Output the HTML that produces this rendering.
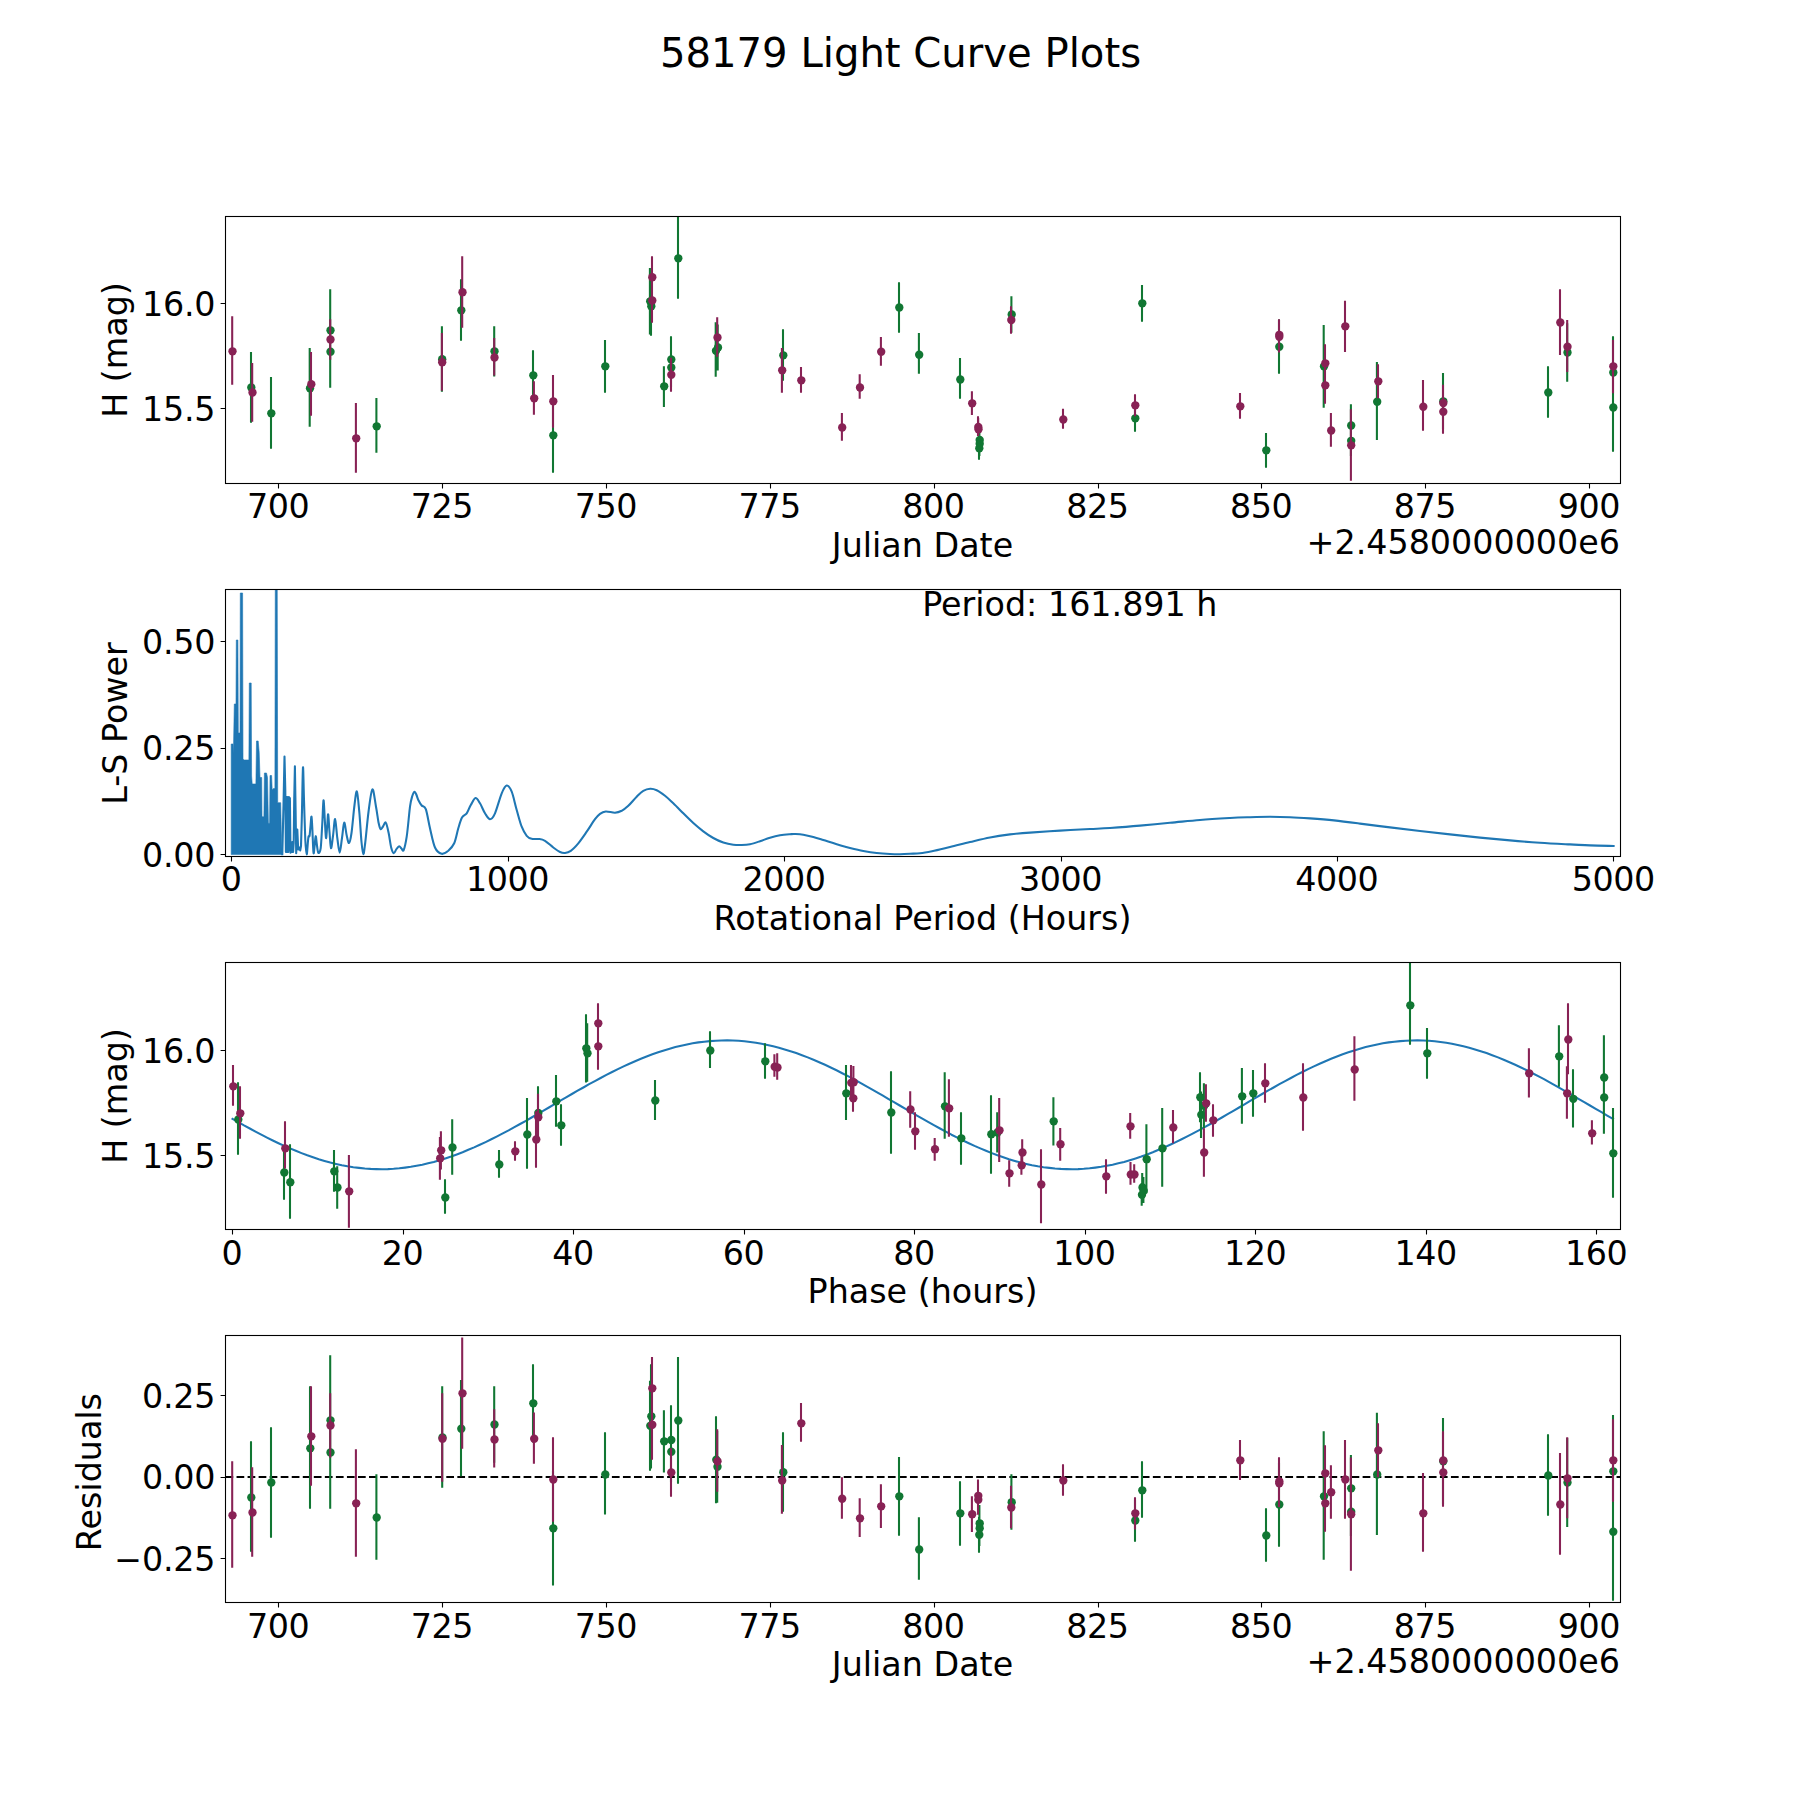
<!DOCTYPE html>
<html><head><meta charset="utf-8"><title>58179 Light Curve Plots</title>
<style>html,body{margin:0;padding:0;background:#fff}svg{display:block}text{font-family:"DejaVu Sans","Liberation Sans",sans-serif;fill:#000}</style></head><body>
<svg width="1800" height="1800" viewBox="0 0 1800 1800">
<rect x="0" y="0" width="1800" height="1800" fill="#fff"/>
<defs>
<clipPath id="c0"><rect x="225.5" y="216.5" width="1395.0" height="267.0"/></clipPath>
<clipPath id="c1"><rect x="225.5" y="589.5" width="1395.0" height="267.0"/></clipPath>
<clipPath id="c2"><rect x="225.5" y="962.5" width="1395.0" height="267.0"/></clipPath>
<clipPath id="c3"><rect x="225.5" y="1335.5" width="1395.0" height="267.0"/></clipPath>
</defs>
<text transform="translate(900.5,66.8) scale(0.9636,1)" font-size="41.67" text-anchor="middle">58179 Light Curve Plots</text>
<g clip-path="url(#c0)">
<g fill="#117733" stroke="#117733" stroke-width="2.08">
<circle cx="251.3" cy="387.5" r="4.17" stroke="none"/><circle cx="271.3" cy="413.3" r="4.17" stroke="none"/><circle cx="310.0" cy="388.3" r="4.17" stroke="none"/><circle cx="330.5" cy="330.3" r="4.17" stroke="none"/><circle cx="330.5" cy="351.7" r="4.17" stroke="none"/><circle cx="376.7" cy="426.3" r="4.17" stroke="none"/><circle cx="442.2" cy="359.2" r="4.17" stroke="none"/><circle cx="461.3" cy="310.3" r="4.17" stroke="none"/><circle cx="494.5" cy="351.3" r="4.17" stroke="none"/><circle cx="533.3" cy="375.3" r="4.17" stroke="none"/><circle cx="553.3" cy="435.3" r="4.17" stroke="none"/><circle cx="605.3" cy="366.3" r="4.17" stroke="none"/><circle cx="650.2" cy="301.3" r="4.17" stroke="none"/><circle cx="651.3" cy="306.3" r="4.17" stroke="none"/><circle cx="678.3" cy="258.3" r="4.17" stroke="none"/><circle cx="671.3" cy="359.5" r="4.17" stroke="none"/><circle cx="671.3" cy="367.5" r="4.17" stroke="none"/><circle cx="664.2" cy="386.3" r="4.17" stroke="none"/><circle cx="718.0" cy="347.5" r="4.17" stroke="none"/><circle cx="716.0" cy="350.8" r="4.17" stroke="none"/><circle cx="783.3" cy="355.3" r="4.17" stroke="none"/><circle cx="899.3" cy="307.5" r="4.17" stroke="none"/><circle cx="919.2" cy="354.7" r="4.17" stroke="none"/><circle cx="960.3" cy="379.5" r="4.17" stroke="none"/><circle cx="979.7" cy="440.0" r="4.17" stroke="none"/><circle cx="979.7" cy="443.7" r="4.17" stroke="none"/><circle cx="979.3" cy="448.3" r="4.17" stroke="none"/><circle cx="1011.7" cy="314.5" r="4.17" stroke="none"/><circle cx="1135.3" cy="418.3" r="4.17" stroke="none"/><circle cx="1142.3" cy="303.3" r="4.17" stroke="none"/><circle cx="1266.3" cy="450.3" r="4.17" stroke="none"/><circle cx="1279.3" cy="346.7" r="4.17" stroke="none"/><circle cx="1324.0" cy="366.3" r="4.17" stroke="none"/><circle cx="1351.2" cy="425.5" r="4.17" stroke="none"/><circle cx="1351.2" cy="440.8" r="4.17" stroke="none"/><circle cx="1377.2" cy="401.7" r="4.17" stroke="none"/><circle cx="1443.3" cy="401.3" r="4.17" stroke="none"/><circle cx="1548.3" cy="392.5" r="4.17" stroke="none"/><circle cx="1567.5" cy="352.5" r="4.17" stroke="none"/><circle cx="1613.3" cy="372.5" r="4.17" stroke="none"/><circle cx="1613.3" cy="407.5" r="4.17" stroke="none"/>
<path d="M251.0 352.0V422.8M271.0 377.0V448.7M309.7 348.0V426.7M330.2 289.2V371.5M330.2 315.5V387.8M376.4 398.0V452.8M441.9 326.2V391.7M461.0 279.2V340.8M494.2 326.2V376.5M533.0 350.3V400.3M553.0 397.8V472.8M605.0 340.0V392.8M649.9 268.0V334.6M651.0 276.8V335.8M678.0 200.0V298.8M671.0 336.2V382.8M671.0 347.5V387.5M663.9 366.2V407.0M717.7 324.5V370.5M715.7 322.2V376.7M783.0 329.2V380.8M899.0 282.2V332.8M918.9 333.0V373.8M960.0 358.0V398.8M979.4 428.0V452.0M979.4 431.0V456.0M979.0 437.0V459.7M1011.4 296.2V332.8M1135.0 405.0V431.7M1142.0 285.0V321.7M1266.0 433.0V467.8M1279.0 319.6V373.8M1323.7 325.0V407.8M1350.9 404.2V446.8M1350.9 425.0V456.0M1376.9 362.0V440.0M1443.0 373.0V429.6M1548.0 366.2V417.8M1567.2 323.3V381.7M1613.0 336.2V408.8M1613.0 363.3V451.7" fill="none"/>
</g>
<g fill="#882255" stroke="#882255" stroke-width="2.08">
<circle cx="232.5" cy="351.3" r="4.17" stroke="none"/><circle cx="252.5" cy="392.5" r="4.17" stroke="none"/><circle cx="311.3" cy="384.2" r="4.17" stroke="none"/><circle cx="330.5" cy="339.5" r="4.17" stroke="none"/><circle cx="356.2" cy="438.3" r="4.17" stroke="none"/><circle cx="442.2" cy="362.2" r="4.17" stroke="none"/><circle cx="462.5" cy="292.2" r="4.17" stroke="none"/><circle cx="494.5" cy="357.5" r="4.17" stroke="none"/><circle cx="534.2" cy="398.3" r="4.17" stroke="none"/><circle cx="553.3" cy="401.3" r="4.17" stroke="none"/><circle cx="652.3" cy="277.2" r="4.17" stroke="none"/><circle cx="652.3" cy="300.5" r="4.17" stroke="none"/><circle cx="671.3" cy="374.7" r="4.17" stroke="none"/><circle cx="717.5" cy="337.5" r="4.17" stroke="none"/><circle cx="782.2" cy="370.3" r="4.17" stroke="none"/><circle cx="801.3" cy="380.3" r="4.17" stroke="none"/><circle cx="842.2" cy="427.5" r="4.17" stroke="none"/><circle cx="860.0" cy="387.5" r="4.17" stroke="none"/><circle cx="881.2" cy="351.7" r="4.17" stroke="none"/><circle cx="972.2" cy="403.3" r="4.17" stroke="none"/><circle cx="978.3" cy="427.0" r="4.17" stroke="none"/><circle cx="978.5" cy="429.3" r="4.17" stroke="none"/><circle cx="1011.3" cy="320.0" r="4.17" stroke="none"/><circle cx="1063.3" cy="419.5" r="4.17" stroke="none"/><circle cx="1135.3" cy="405.3" r="4.17" stroke="none"/><circle cx="1240.3" cy="406.3" r="4.17" stroke="none"/><circle cx="1279.3" cy="334.8" r="4.17" stroke="none"/><circle cx="1279.3" cy="336.8" r="4.17" stroke="none"/><circle cx="1325.3" cy="363.3" r="4.17" stroke="none"/><circle cx="1325.3" cy="385.3" r="4.17" stroke="none"/><circle cx="1331.2" cy="430.5" r="4.17" stroke="none"/><circle cx="1345.3" cy="326.3" r="4.17" stroke="none"/><circle cx="1351.2" cy="445.3" r="4.17" stroke="none"/><circle cx="1378.3" cy="381.3" r="4.17" stroke="none"/><circle cx="1423.3" cy="406.7" r="4.17" stroke="none"/><circle cx="1443.3" cy="403.0" r="4.17" stroke="none"/><circle cx="1443.3" cy="411.7" r="4.17" stroke="none"/><circle cx="1560.3" cy="322.5" r="4.17" stroke="none"/><circle cx="1567.5" cy="346.7" r="4.17" stroke="none"/><circle cx="1613.3" cy="366.3" r="4.17" stroke="none"/>
<path d="M232.2 316.2V384.7M252.2 363.0V421.7M311.0 352.0V415.8M330.2 319.2V359.7M355.9 403.0V472.8M441.9 333.0V390.8M462.2 256.2V327.8M494.2 338.0V375.5M533.9 381.3V414.7M553.0 375.0V427.7M652.0 256.2V298.2M652.0 278.2V322.8M671.0 357.7V391.7M717.2 317.2V356.7M781.9 348.0V392.8M801.0 367.0V392.8M841.9 413.0V440.8M859.7 374.2V398.8M880.9 337.0V365.8M971.9 391.2V415.0M978.0 416.2V436.0M978.2 418.0V436.0M1011.0 306.2V333.8M1063.0 408.8V428.8M1135.0 394.2V416.3M1240.0 393.0V418.8M1279.0 319.2V351.0M1279.0 320.5V352.4M1325.0 344.2V382.4M1325.0 367.0V403.7M1330.9 413.0V446.7M1345.0 300.8V352.0M1350.9 409.2V480.8M1378.0 364.2V398.3M1423.0 380.0V430.8M1443.0 384.7V421.3M1443.0 389.6V433.8M1560.0 289.2V355.0M1567.2 320.0V372.0M1613.0 340.0V393.3" fill="none"/>
</g>
</g>
<rect x="225.5" y="216.5" width="1395.0" height="267.0" fill="none" stroke="#000" stroke-width="1.1"/>
<path d="M278.5 483.5v4.9M442.5 483.5v4.9M606.5 483.5v4.9M770.5 483.5v4.9M934.5 483.5v4.9M1098.5 483.5v4.9M1261.5 483.5v4.9M1425.5 483.5v4.9M1589.5 483.5v4.9" stroke="#000" stroke-width="1.1" fill="none"/>
<text x="278.2" y="517.5" font-size="33.33" text-anchor="middle" letter-spacing="-0.45">700</text>
<text x="442.0" y="517.5" font-size="33.33" text-anchor="middle" letter-spacing="-0.45">725</text>
<text x="605.8" y="517.5" font-size="33.33" text-anchor="middle" letter-spacing="-0.45">750</text>
<text x="769.7" y="517.5" font-size="33.33" text-anchor="middle" letter-spacing="-0.45">775</text>
<text x="933.5" y="517.5" font-size="33.33" text-anchor="middle" letter-spacing="-0.45">800</text>
<text x="1097.3" y="517.5" font-size="33.33" text-anchor="middle" letter-spacing="-0.45">825</text>
<text x="1261.1" y="517.5" font-size="33.33" text-anchor="middle" letter-spacing="-0.45">850</text>
<text x="1425.0" y="517.5" font-size="33.33" text-anchor="middle" letter-spacing="-0.45">875</text>
<text x="1588.8" y="517.5" font-size="33.33" text-anchor="middle" letter-spacing="-0.45">900</text>
<path d="M225.5 303.5h-4.9M225.5 408.5h-4.9" stroke="#000" stroke-width="1.1" fill="none"/>
<text x="215.3" y="315.5" font-size="33.33" text-anchor="end" letter-spacing="-0.2">16.0</text>
<text x="215.3" y="420.5" font-size="33.33" text-anchor="end" letter-spacing="-0.2">15.5</text>
<text x="922.5" y="557.0" font-size="33.33" text-anchor="middle">Julian Date</text>
<text transform="translate(126.7,350.0) rotate(-90)" font-size="33.33" text-anchor="middle">H (mag)</text>
<text x="1620" y="554.2" font-size="33.33" text-anchor="end">+2.4580000000e6</text>
<g clip-path="url(#c1)">
<polygon points="231.2,854.6 231.2,744.0 233.0,744.0 233.4,754.0 234.3,704.0 236.0,704.0 236.3,640.0 237.9,640.0 238.3,733.0 240.0,733.0 240.3,593.0 242.6,593.0 243.0,759.0 244.0,760.0 248.9,760.0 249.3,683.0 251.2,683.0 251.6,776.0 252.2,784.0 255.9,784.0 256.5,741.0 258.2,741.0 259.2,752.5 260.0,777.5 261.7,777.5 262.0,816.7 263.9,816.7 264.4,773.0 266.5,773.0 267.5,777.5 268.4,823.3 269.6,823.3 270.0,775.5 271.6,775.5 272.2,790.0 273.5,788.5 274.9,788.5 275.3,570.0 277.2,570.0 277.7,802.7 280.7,802.7 281.3,830.0 282.2,854.6" fill="#1f77b4" stroke="#1f77b4" stroke-width="0.6" stroke-linejoin="round"/>
<path d="M282.3 854.3L283.5 805.0L284.5 756.5L285.3 790.0L285.9 852.0L286.5 797.0L287.1 852.0L287.7 797.0L288.3 852.0L288.9 797.0L289.5 850.0L289.9 798.0L290.5 852.7L291.2 842.0L291.8 852.0L292.5 842.0L293.1 852.0L293.7 843.0L294.2 800.0L294.9 766.3L295.6 810.0L296.2 853.3L297.3 829.5L298.2 849.5L299.2 847.5L300.2 850.5L301.0 846.0L301.0 846.0C301.2 840.0 301.7 823.1 302.0 810.0C302.3 796.9 302.7 769.0 303.0 767.3C303.3 765.6 303.6 787.9 304.0 800.0C304.4 812.1 304.9 831.0 305.3 840.0C305.8 849.0 306.2 854.1 306.7 854.3C307.1 854.5 307.7 844.0 308.0 841.0C308.3 838.0 308.3 837.2 308.6 836.3C308.9 835.4 309.3 837.4 309.6 835.5C309.9 833.6 310.3 828.1 310.6 825.0C310.9 821.9 311.2 815.9 311.5 816.7C311.8 817.5 312.1 824.0 312.4 830.0C312.7 836.0 313.1 850.0 313.5 852.7C313.9 855.4 314.2 848.8 314.6 846.0C315.0 843.2 315.3 836.5 315.7 836.2C316.1 835.9 316.4 841.2 316.8 844.0C317.2 846.8 317.7 852.0 318.3 852.7C318.9 853.4 320.1 852.8 320.7 848.2C321.3 843.6 321.7 833.0 322.2 825.0C322.7 817.0 323.1 801.6 323.5 800.4C323.9 799.2 324.3 811.7 324.7 818.0C325.1 824.3 325.6 836.7 326.0 838.0C326.4 839.3 326.8 830.0 327.2 826.0C327.6 822.0 327.8 813.3 328.2 814.3C328.6 815.3 329.0 826.4 329.5 832.0C330.0 837.6 330.4 847.5 331.0 848.2C331.6 848.9 332.3 840.9 333.0 836.0C333.7 831.1 334.4 818.7 335.1 819.0C335.8 819.3 336.5 832.4 337.3 838.0C338.1 843.6 338.9 852.6 339.7 852.6C340.5 852.6 341.2 843.0 342.0 838.0C342.8 833.0 343.4 823.2 344.2 822.7C345.0 822.2 345.8 831.6 346.6 835.0C347.4 838.4 348.2 843.3 349.0 843.0C349.8 842.7 350.6 839.3 351.5 833.0C352.4 826.7 353.6 811.9 354.5 805.0C355.4 798.1 356.1 790.3 356.9 791.5C357.7 792.7 358.5 803.6 359.3 812.0C360.1 820.4 360.8 835.0 361.5 842.0C362.2 849.0 362.7 854.0 363.3 854.2C363.9 854.4 364.3 850.0 365.2 843.0C366.1 836.0 367.3 821.0 368.5 812.0C369.7 803.0 371.1 790.2 372.4 789.3C373.6 788.4 374.9 801.0 376.0 806.7C377.1 812.4 377.9 819.6 378.7 823.3C379.5 827.0 379.9 828.6 380.6 829.1C381.3 829.6 382.1 827.6 383.0 826.5C383.9 825.4 384.9 821.5 385.8 822.6C386.8 823.7 387.8 829.1 388.7 833.3C389.6 837.5 390.4 844.7 391.3 848.0C392.2 851.3 392.9 853.1 393.8 853.3C394.7 853.5 395.6 850.2 396.5 849.0C397.4 847.8 398.4 846.3 399.2 846.2C400.0 846.1 400.8 847.9 401.5 848.5C402.2 849.1 402.8 852.0 403.7 850.0C404.6 848.0 405.6 843.9 406.7 836.7C407.8 829.5 409.1 813.5 410.0 806.7C410.9 799.9 411.6 798.5 412.3 796.0C413.1 793.5 413.8 791.9 414.5 791.7C415.2 791.5 415.9 793.6 416.5 795.0C417.1 796.4 417.4 798.2 418.3 800.0C419.2 801.8 420.4 804.0 421.7 805.5C422.9 807.0 424.4 805.4 425.8 809.2C427.2 813.0 428.5 821.9 430.0 828.3C431.5 834.7 433.1 843.2 435.0 847.5C436.9 851.8 439.5 853.2 441.7 853.8C443.9 854.3 446.2 852.5 448.3 850.8C450.4 849.0 452.5 847.0 454.2 843.3C455.9 839.5 457.0 832.6 458.3 828.3C459.6 824.0 460.6 820.0 462.0 817.5C463.4 815.0 465.2 815.4 466.7 813.3C468.2 811.2 469.3 807.5 470.8 805.0C472.3 802.5 474.0 798.3 475.5 798.0C477.0 797.7 478.4 800.8 480.0 803.3C481.6 805.8 483.3 810.6 485.0 813.3C486.7 815.9 488.3 819.2 490.0 819.2C491.7 819.2 493.1 817.6 495.0 813.3C496.9 809.0 499.8 797.9 501.7 793.3C503.6 788.7 505.0 785.8 506.7 785.5C508.4 785.2 510.0 787.6 511.7 791.7C513.4 795.8 515.0 804.2 516.7 810.0C518.4 815.8 520.0 822.4 521.7 826.7C523.4 831.0 525.0 833.8 526.7 835.8C528.4 837.8 529.6 838.3 531.7 838.8C533.8 839.3 537.0 838.7 539.2 839.0C541.4 839.3 542.6 839.4 545.0 840.8C547.4 842.2 550.8 845.6 553.3 847.5C555.8 849.4 558.0 851.1 560.0 852.0C562.0 852.9 563.2 853.2 565.0 853.0C566.8 852.8 568.6 852.4 570.8 850.8C573.0 849.2 575.6 846.5 578.3 843.3C580.9 840.1 583.9 835.7 586.7 831.7C589.5 827.7 592.8 822.2 595.0 819.2C597.2 816.2 598.2 815.1 600.0 813.8C601.8 812.5 603.3 811.7 605.8 811.5C608.3 811.3 612.4 812.8 615.0 812.7C617.6 812.6 619.5 811.9 621.7 810.8C623.9 809.6 625.8 808.1 628.3 805.8C630.8 803.4 634.2 799.2 636.7 796.7C639.2 794.2 641.0 792.1 643.3 790.8C645.5 789.5 648.0 788.8 650.2 788.7C652.4 788.6 654.2 789.0 656.7 790.2C659.2 791.4 662.2 793.6 665.0 795.8C667.8 798.0 670.2 800.4 673.3 803.3C676.3 806.2 680.0 810.0 683.3 813.3C686.6 816.6 690.0 820.0 693.3 823.0C696.6 826.0 700.0 828.8 703.3 831.3C706.6 833.8 710.0 836.1 713.3 838.0C716.6 839.9 720.0 841.4 723.3 842.5C726.6 843.6 730.2 844.3 733.3 844.7C736.4 845.1 738.9 845.1 741.7 845.0C744.5 844.9 747.0 844.8 750.0 844.2C753.0 843.6 756.7 842.3 760.0 841.2C763.3 840.1 766.7 838.8 770.0 837.8C773.3 836.8 776.7 835.9 780.0 835.3C783.3 834.7 787.5 834.4 790.0 834.2C792.5 834.0 792.8 833.9 795.0 834.0C797.2 834.1 800.2 834.2 803.3 834.7C806.3 835.2 810.0 836.1 813.3 837.0C816.6 837.9 819.4 838.8 823.3 840.0C827.2 841.2 832.2 842.9 836.7 844.2C841.2 845.5 845.6 846.9 850.0 848.0C854.4 849.1 858.8 850.2 863.3 851.0C867.8 851.8 872.2 852.5 876.7 853.0C881.2 853.5 886.1 853.8 890.0 854.0C893.9 854.2 896.7 854.2 900.0 854.2C903.3 854.2 906.7 854.0 910.0 853.8C913.3 853.6 916.3 853.6 920.0 853.2C923.7 852.8 927.0 852.2 932.0 851.2C937.0 850.2 943.7 848.5 950.0 847.0C956.3 845.5 963.3 843.6 970.0 842.0C976.7 840.4 983.3 838.7 990.0 837.4C996.7 836.1 1003.3 835.2 1010.0 834.4C1016.7 833.6 1021.7 833.2 1030.0 832.6C1038.3 832.0 1050.0 831.2 1060.0 830.6C1070.0 830.0 1081.7 829.4 1090.0 829.0C1098.3 828.6 1101.7 828.6 1110.0 828.0C1118.3 827.4 1130.0 826.5 1140.0 825.6C1150.0 824.7 1160.0 823.7 1170.0 822.8C1180.0 821.9 1190.0 820.8 1200.0 820.0C1210.0 819.2 1221.7 818.5 1230.0 818.0C1238.3 817.5 1243.3 817.4 1250.0 817.2C1256.7 817.0 1263.3 816.8 1270.0 816.8C1276.7 816.8 1283.3 816.9 1290.0 817.2C1296.7 817.5 1302.7 817.9 1310.0 818.4C1317.3 818.9 1325.7 819.5 1334.0 820.4C1342.3 821.3 1350.7 822.4 1360.0 823.6C1369.3 824.8 1380.0 826.2 1390.0 827.4C1400.0 828.6 1410.0 829.8 1420.0 831.0C1430.0 832.2 1440.0 833.3 1450.0 834.4C1460.0 835.5 1470.0 836.6 1480.0 837.6C1490.0 838.6 1500.0 839.5 1510.0 840.4C1520.0 841.3 1530.0 842.1 1540.0 842.8C1550.0 843.5 1561.7 844.0 1570.0 844.4C1578.3 844.8 1582.7 845.1 1590.0 845.4C1597.3 845.7 1609.7 845.9 1613.6 846.0" fill="none" stroke="#1f77b4" stroke-width="2.08" stroke-linejoin="round" stroke-linecap="square"/>
</g>
<rect x="225.5" y="589.5" width="1395.0" height="267.0" fill="none" stroke="#000" stroke-width="1.1"/>
<path d="M231.5 856.5v4.9M508.5 856.5v4.9M784.5 856.5v4.9M1061.5 856.5v4.9M1337.5 856.5v4.9M1613.5 856.5v4.9" stroke="#000" stroke-width="1.1" fill="none"/>
<text x="231.2" y="890.8" font-size="33.33" text-anchor="middle" letter-spacing="-0.45">0</text>
<text x="507.6" y="890.8" font-size="33.33" text-anchor="middle" letter-spacing="-0.45">1000</text>
<text x="784.0" y="890.8" font-size="33.33" text-anchor="middle" letter-spacing="-0.45">2000</text>
<text x="1060.4" y="890.8" font-size="33.33" text-anchor="middle" letter-spacing="-0.45">3000</text>
<text x="1336.8" y="890.8" font-size="33.33" text-anchor="middle" letter-spacing="-0.45">4000</text>
<text x="1613.2" y="890.8" font-size="33.33" text-anchor="middle" letter-spacing="-0.45">5000</text>
<path d="M225.5 854.5h-4.9M225.5 748.5h-4.9M225.5 641.5h-4.9" stroke="#000" stroke-width="1.1" fill="none"/>
<text x="215.3" y="866.7" font-size="33.33" text-anchor="end" letter-spacing="-0.2">0.00</text>
<text x="215.3" y="760.3" font-size="33.33" text-anchor="end" letter-spacing="-0.2">0.25</text>
<text x="215.3" y="653.7" font-size="33.33" text-anchor="end" letter-spacing="-0.2">0.50</text>
<text x="922.5" y="930.0" font-size="33.33" text-anchor="middle">Rotational Period (Hours)</text>
<text transform="translate(126.7,723.5) rotate(-90)" font-size="33.33" text-anchor="middle">L-S Power</text>
<text x="922.2" y="616" font-size="33.33">Period: 161.891 h</text>
<g clip-path="url(#c2)">
<polyline points="232.5,1118.9 238.3,1122.1 244.0,1125.4 249.8,1128.5 255.5,1131.6 261.3,1134.7 267.0,1137.6 272.8,1140.5 278.5,1143.2 284.3,1145.9 290.0,1148.4 295.8,1150.8 301.5,1153.1 307.3,1155.3 313.0,1157.3 318.8,1159.2 324.5,1160.9 330.3,1162.5 336.0,1163.9 341.8,1165.2 347.5,1166.3 353.3,1167.2 359.0,1167.9 364.8,1168.5 370.6,1168.9 376.3,1169.1 382.1,1169.2 387.8,1169.1 393.6,1168.8 399.3,1168.3 405.1,1167.6 410.8,1166.8 416.6,1165.8 422.3,1164.7 428.1,1163.3 433.8,1161.9 439.6,1160.2 445.3,1158.4 451.1,1156.5 456.8,1154.4 462.6,1152.2 468.3,1149.8 474.1,1147.4 479.8,1144.8 485.6,1142.1 491.3,1139.3 497.1,1136.4 502.8,1133.4 508.6,1130.4 514.4,1127.2 520.1,1124.0 525.9,1120.8 531.6,1117.5 537.4,1114.2 543.1,1110.8 548.9,1107.5 554.6,1104.1 560.4,1100.7 566.1,1097.4 571.9,1094.0 577.6,1090.7 583.4,1087.5 589.1,1084.2 594.9,1081.1 600.6,1078.0 606.4,1074.9 612.1,1072.0 617.9,1069.1 623.6,1066.4 629.4,1063.7 635.1,1061.2 640.9,1058.8 646.6,1056.5 652.4,1054.3 658.2,1052.3 663.9,1050.4 669.7,1048.7 675.4,1047.1 681.2,1045.7 686.9,1044.4 692.7,1043.3 698.4,1042.4 704.2,1041.7 709.9,1041.1 715.7,1040.7 721.4,1040.5 727.2,1040.4 732.9,1040.5 738.7,1040.8 744.4,1041.3 750.2,1042.0 755.9,1042.8 761.7,1043.8 767.4,1044.9 773.2,1046.3 778.9,1047.7 784.7,1049.4 790.5,1051.2 796.2,1053.1 802.0,1055.2 807.7,1057.4 813.5,1059.8 819.2,1062.2 825.0,1064.8 830.7,1067.5 836.5,1070.3 842.2,1073.2 848.0,1076.2 853.7,1079.2 859.5,1082.4 865.2,1085.6 871.0,1088.8 876.7,1092.1 882.5,1095.4 888.2,1098.8 894.0,1102.1 899.7,1105.5 905.5,1108.9 911.2,1112.2 917.0,1115.6 922.8,1118.9 928.5,1122.1 934.3,1125.4 940.0,1128.5 945.8,1131.6 951.5,1134.7 957.3,1137.6 963.0,1140.5 968.8,1143.2 974.5,1145.9 980.3,1148.4 986.0,1150.8 991.8,1153.1 997.5,1155.3 1003.3,1157.3 1009.0,1159.2 1014.8,1160.9 1020.5,1162.5 1026.3,1163.9 1032.0,1165.2 1037.8,1166.3 1043.5,1167.2 1049.3,1167.9 1055.0,1168.5 1060.8,1168.9 1066.6,1169.1 1072.3,1169.2 1078.1,1169.1 1083.8,1168.8 1089.6,1168.3 1095.3,1167.6 1101.1,1166.8 1106.8,1165.8 1112.6,1164.7 1118.3,1163.3 1124.1,1161.9 1129.8,1160.2 1135.6,1158.4 1141.3,1156.5 1147.1,1154.4 1152.8,1152.2 1158.6,1149.8 1164.3,1147.4 1170.1,1144.8 1175.8,1142.1 1181.6,1139.3 1187.3,1136.4 1193.1,1133.4 1198.8,1130.4 1204.6,1127.2 1210.4,1124.0 1216.1,1120.8 1221.9,1117.5 1227.6,1114.2 1233.4,1110.8 1239.1,1107.5 1244.9,1104.1 1250.6,1100.7 1256.4,1097.4 1262.1,1094.0 1267.9,1090.7 1273.6,1087.5 1279.4,1084.2 1285.1,1081.1 1290.9,1078.0 1296.6,1074.9 1302.4,1072.0 1308.1,1069.1 1313.9,1066.4 1319.6,1063.7 1325.4,1061.2 1331.1,1058.8 1336.9,1056.5 1342.7,1054.3 1348.4,1052.3 1354.2,1050.4 1359.9,1048.7 1365.7,1047.1 1371.4,1045.7 1377.2,1044.4 1382.9,1043.3 1388.7,1042.4 1394.4,1041.7 1400.2,1041.1 1405.9,1040.7 1411.7,1040.5 1417.4,1040.4 1423.2,1040.5 1428.9,1040.8 1434.7,1041.3 1440.4,1042.0 1446.2,1042.8 1451.9,1043.8 1457.7,1044.9 1463.4,1046.3 1469.2,1047.7 1475.0,1049.4 1480.7,1051.2 1486.5,1053.1 1492.2,1055.2 1498.0,1057.4 1503.7,1059.8 1509.5,1062.2 1515.2,1064.8 1521.0,1067.5 1526.7,1070.3 1532.5,1073.2 1538.2,1076.2 1544.0,1079.2 1549.7,1082.4 1555.5,1085.6 1561.2,1088.8 1567.0,1092.1 1572.7,1095.4 1578.5,1098.8 1584.2,1102.1 1590.0,1105.5 1595.7,1108.9 1601.5,1112.2 1607.2,1115.6 1613.0,1118.9" fill="none" stroke="#1f77b4" stroke-width="2.08" stroke-linejoin="round" stroke-linecap="square"/>
</g>
<g clip-path="url(#c2)">
<g fill="#117733" stroke="#117733" stroke-width="2.08">
<circle cx="238.3" cy="1119.5" r="4.17" stroke="none"/><circle cx="284.3" cy="1172.5" r="4.17" stroke="none"/><circle cx="290.3" cy="1182.2" r="4.17" stroke="none"/><circle cx="334.3" cy="1171.3" r="4.17" stroke="none"/><circle cx="337.5" cy="1187.5" r="4.17" stroke="none"/><circle cx="445.3" cy="1197.5" r="4.17" stroke="none"/><circle cx="452.5" cy="1147.5" r="4.17" stroke="none"/><circle cx="499.3" cy="1164.5" r="4.17" stroke="none"/><circle cx="527.3" cy="1134.5" r="4.17" stroke="none"/><circle cx="538.3" cy="1113.0" r="4.17" stroke="none"/><circle cx="556.3" cy="1101.3" r="4.17" stroke="none"/><circle cx="561.3" cy="1125.3" r="4.17" stroke="none"/><circle cx="586.3" cy="1048.3" r="4.17" stroke="none"/><circle cx="587.5" cy="1053.3" r="4.17" stroke="none"/><circle cx="655.3" cy="1100.5" r="4.17" stroke="none"/><circle cx="710.3" cy="1050.5" r="4.17" stroke="none"/><circle cx="765.3" cy="1061.3" r="4.17" stroke="none"/><circle cx="846.3" cy="1093.3" r="4.17" stroke="none"/><circle cx="891.3" cy="1112.5" r="4.17" stroke="none"/><circle cx="945.0" cy="1106.3" r="4.17" stroke="none"/><circle cx="961.3" cy="1138.3" r="4.17" stroke="none"/><circle cx="991.3" cy="1134.2" r="4.17" stroke="none"/><circle cx="997.5" cy="1132.5" r="4.17" stroke="none"/><circle cx="1053.7" cy="1121.3" r="4.17" stroke="none"/><circle cx="1146.7" cy="1159.2" r="4.17" stroke="none"/><circle cx="1142.5" cy="1187.5" r="4.17" stroke="none"/><circle cx="1143.7" cy="1190.8" r="4.17" stroke="none"/><circle cx="1142.0" cy="1194.7" r="4.17" stroke="none"/><circle cx="1162.5" cy="1148.3" r="4.17" stroke="none"/><circle cx="1200.3" cy="1097.2" r="4.17" stroke="none"/><circle cx="1201.3" cy="1114.7" r="4.17" stroke="none"/><circle cx="1204.2" cy="1105.8" r="4.17" stroke="none"/><circle cx="1242.2" cy="1096.3" r="4.17" stroke="none"/><circle cx="1253.3" cy="1093.3" r="4.17" stroke="none"/><circle cx="1410.3" cy="1005.3" r="4.17" stroke="none"/><circle cx="1427.3" cy="1053.3" r="4.17" stroke="none"/><circle cx="1559.2" cy="1056.3" r="4.17" stroke="none"/><circle cx="1573.3" cy="1098.8" r="4.17" stroke="none"/><circle cx="1604.2" cy="1077.5" r="4.17" stroke="none"/><circle cx="1604.2" cy="1097.5" r="4.17" stroke="none"/><circle cx="1613.3" cy="1153.3" r="4.17" stroke="none"/>
<path d="M238.0 1082.2V1154.7M284.0 1145.3V1199.7M290.0 1144.2V1218.7M334.0 1150.0V1191.7M337.2 1166.3V1208.7M445.0 1179.2V1213.8M452.2 1119.2V1174.7M499.0 1150.0V1177.8M527.0 1098.0V1168.7M538.0 1086.2V1139.8M556.0 1075.0V1126.7M561.0 1104.2V1145.8M586.0 1014.2V1082.4M587.2 1023.3V1081.7M655.0 1080.0V1120.0M710.0 1031.2V1068.0M765.0 1043.3V1078.7M846.0 1065.0V1120.0M891.0 1071.2V1153.7M944.7 1072.2V1138.8M961.0 1112.2V1164.7M991.0 1095.3V1173.7M997.2 1112.2V1152.5M1053.4 1097.2V1145.5M1146.4 1124.2V1193.3M1142.2 1173.0V1200.0M1143.4 1177.0V1203.0M1141.7 1183.0V1205.8M1162.2 1108.0V1186.7M1200.0 1072.2V1122.2M1201.0 1091.4V1138.0M1203.9 1083.3V1128.3M1241.9 1068.0V1123.8M1253.0 1070.0V1116.7M1410.0 950.0V1044.7M1427.0 1028.0V1078.7M1558.9 1025.3V1086.7M1573.0 1069.2V1127.5M1603.9 1035.3V1119.5M1603.9 1061.5V1133.7M1613.0 1108.0V1197.8" fill="none"/>
</g>
<g fill="#882255" stroke="#882255" stroke-width="2.08">
<circle cx="233.3" cy="1086.3" r="4.17" stroke="none"/><circle cx="240.3" cy="1113.3" r="4.17" stroke="none"/><circle cx="285.3" cy="1148.3" r="4.17" stroke="none"/><circle cx="349.2" cy="1191.3" r="4.17" stroke="none"/><circle cx="441.2" cy="1150.3" r="4.17" stroke="none"/><circle cx="440.2" cy="1158.3" r="4.17" stroke="none"/><circle cx="515.3" cy="1151.3" r="4.17" stroke="none"/><circle cx="536.3" cy="1139.5" r="4.17" stroke="none"/><circle cx="538.3" cy="1117.2" r="4.17" stroke="none"/><circle cx="598.3" cy="1023.3" r="4.17" stroke="none"/><circle cx="598.3" cy="1046.3" r="4.17" stroke="none"/><circle cx="774.7" cy="1066.7" r="4.17" stroke="none"/><circle cx="777.5" cy="1067.5" r="4.17" stroke="none"/><circle cx="851.3" cy="1082.8" r="4.17" stroke="none"/><circle cx="853.7" cy="1082.2" r="4.17" stroke="none"/><circle cx="853.3" cy="1098.3" r="4.17" stroke="none"/><circle cx="910.5" cy="1109.5" r="4.17" stroke="none"/><circle cx="915.3" cy="1131.3" r="4.17" stroke="none"/><circle cx="935.0" cy="1149.2" r="4.17" stroke="none"/><circle cx="949.2" cy="1108.3" r="4.17" stroke="none"/><circle cx="999.5" cy="1130.3" r="4.17" stroke="none"/><circle cx="1009.5" cy="1173.3" r="4.17" stroke="none"/><circle cx="1022.5" cy="1152.5" r="4.17" stroke="none"/><circle cx="1021.7" cy="1165.3" r="4.17" stroke="none"/><circle cx="1041.3" cy="1184.5" r="4.17" stroke="none"/><circle cx="1060.5" cy="1144.2" r="4.17" stroke="none"/><circle cx="1106.3" cy="1176.3" r="4.17" stroke="none"/><circle cx="1130.5" cy="1126.3" r="4.17" stroke="none"/><circle cx="1130.8" cy="1174.5" r="4.17" stroke="none"/><circle cx="1134.5" cy="1174.5" r="4.17" stroke="none"/><circle cx="1173.3" cy="1127.5" r="4.17" stroke="none"/><circle cx="1206.2" cy="1103.3" r="4.17" stroke="none"/><circle cx="1204.2" cy="1152.5" r="4.17" stroke="none"/><circle cx="1213.3" cy="1120.3" r="4.17" stroke="none"/><circle cx="1265.3" cy="1083.3" r="4.17" stroke="none"/><circle cx="1303.3" cy="1097.5" r="4.17" stroke="none"/><circle cx="1354.7" cy="1069.5" r="4.17" stroke="none"/><circle cx="1529.2" cy="1073.3" r="4.17" stroke="none"/><circle cx="1568.3" cy="1039.5" r="4.17" stroke="none"/><circle cx="1567.2" cy="1093.3" r="4.17" stroke="none"/><circle cx="1592.2" cy="1133.3" r="4.17" stroke="none"/>
<path d="M233.0 1065.0V1105.8M240.0 1086.2V1138.8M285.0 1121.2V1168.5M348.9 1155.0V1227.8M440.9 1131.2V1169.4M439.9 1137.0V1179.7M515.0 1141.2V1160.8M536.0 1111.2V1167.8M538.0 1093.7V1140.7M598.0 1003.3V1043.3M598.0 1022.9V1069.7M774.4 1054.2V1076.7M777.2 1053.3V1079.7M851.0 1065.0V1100.0M853.4 1066.0V1099.0M853.0 1085.0V1111.7M910.2 1091.2V1127.8M915.0 1112.2V1149.7M934.7 1138.0V1160.8M948.9 1079.2V1136.7M999.2 1098.0V1162.0M1009.2 1160.3V1186.7M1022.2 1139.2V1165.8M1021.4 1156.0V1174.7M1041.0 1149.2V1223.3M1060.2 1128.0V1160.8M1106.0 1159.2V1193.8M1130.2 1113.0V1138.8M1130.5 1162.0V1184.7M1134.2 1164.2V1182.8M1173.0 1110.0V1143.3M1205.9 1084.2V1121.7M1203.9 1128.3V1176.7M1213.0 1104.2V1136.7M1265.0 1063.3V1102.8M1303.0 1063.3V1130.8M1354.4 1036.2V1100.8M1528.9 1048.3V1097.5M1568.0 1003.3V1074.2M1566.9 1066.2V1118.7M1591.9 1120.3V1144.5" fill="none"/>
</g>
</g>
<rect x="225.5" y="962.5" width="1395.0" height="267.0" fill="none" stroke="#000" stroke-width="1.1"/>
<path d="M232.5 1229.5v4.9M403.5 1229.5v4.9M573.5 1229.5v4.9M744.5 1229.5v4.9M914.5 1229.5v4.9M1085.5 1229.5v4.9M1255.5 1229.5v4.9M1426.5 1229.5v4.9M1596.5 1229.5v4.9" stroke="#000" stroke-width="1.1" fill="none"/>
<text x="231.8" y="1264.7" font-size="33.33" text-anchor="middle" letter-spacing="-0.45">0</text>
<text x="402.4" y="1264.7" font-size="33.33" text-anchor="middle" letter-spacing="-0.45">20</text>
<text x="572.9" y="1264.7" font-size="33.33" text-anchor="middle" letter-spacing="-0.45">40</text>
<text x="743.4" y="1264.7" font-size="33.33" text-anchor="middle" letter-spacing="-0.45">60</text>
<text x="914.0" y="1264.7" font-size="33.33" text-anchor="middle" letter-spacing="-0.45">80</text>
<text x="1084.5" y="1264.7" font-size="33.33" text-anchor="middle" letter-spacing="-0.45">100</text>
<text x="1255.1" y="1264.7" font-size="33.33" text-anchor="middle" letter-spacing="-0.45">120</text>
<text x="1425.6" y="1264.7" font-size="33.33" text-anchor="middle" letter-spacing="-0.45">140</text>
<text x="1596.2" y="1264.7" font-size="33.33" text-anchor="middle" letter-spacing="-0.45">160</text>
<path d="M225.5 1050.5h-4.9M225.5 1155.5h-4.9" stroke="#000" stroke-width="1.1" fill="none"/>
<text x="215.3" y="1062.7" font-size="33.33" text-anchor="end" letter-spacing="-0.2">16.0</text>
<text x="215.3" y="1167.7" font-size="33.33" text-anchor="end" letter-spacing="-0.2">15.5</text>
<text x="922.5" y="1303.0" font-size="33.33" text-anchor="middle">Phase (hours)</text>
<text transform="translate(126.7,1096.0) rotate(-90)" font-size="33.33" text-anchor="middle">H (mag)</text>
<path d="M225.5 1477H1620.5" stroke="#000" stroke-width="2.08" stroke-dasharray="7.71 3.33" fill="none"/>
<g clip-path="url(#c3)">
<g fill="#117733" stroke="#117733" stroke-width="2.08">
<circle cx="251.3" cy="1497.5" r="4.17" stroke="none"/><circle cx="271.3" cy="1482.5" r="4.17" stroke="none"/><circle cx="310.3" cy="1448.3" r="4.17" stroke="none"/><circle cx="330.5" cy="1420.3" r="4.17" stroke="none"/><circle cx="330.5" cy="1452.5" r="4.17" stroke="none"/><circle cx="376.7" cy="1517.5" r="4.17" stroke="none"/><circle cx="442.5" cy="1437.5" r="4.17" stroke="none"/><circle cx="461.3" cy="1428.7" r="4.17" stroke="none"/><circle cx="494.5" cy="1424.5" r="4.17" stroke="none"/><circle cx="533.3" cy="1403.3" r="4.17" stroke="none"/><circle cx="553.3" cy="1528.3" r="4.17" stroke="none"/><circle cx="605.3" cy="1474.5" r="4.17" stroke="none"/><circle cx="651.3" cy="1416.3" r="4.17" stroke="none"/><circle cx="650.3" cy="1425.8" r="4.17" stroke="none"/><circle cx="664.2" cy="1441.3" r="4.17" stroke="none"/><circle cx="671.3" cy="1440.0" r="4.17" stroke="none"/><circle cx="671.3" cy="1451.7" r="4.17" stroke="none"/><circle cx="678.3" cy="1420.5" r="4.17" stroke="none"/><circle cx="716.3" cy="1459.7" r="4.17" stroke="none"/><circle cx="717.5" cy="1466.7" r="4.17" stroke="none"/><circle cx="783.3" cy="1472.2" r="4.17" stroke="none"/><circle cx="899.3" cy="1496.3" r="4.17" stroke="none"/><circle cx="919.2" cy="1549.5" r="4.17" stroke="none"/><circle cx="960.3" cy="1513.3" r="4.17" stroke="none"/><circle cx="979.7" cy="1523.3" r="4.17" stroke="none"/><circle cx="979.7" cy="1528.3" r="4.17" stroke="none"/><circle cx="979.3" cy="1534.7" r="4.17" stroke="none"/><circle cx="1011.7" cy="1502.2" r="4.17" stroke="none"/><circle cx="1135.3" cy="1520.5" r="4.17" stroke="none"/><circle cx="1142.3" cy="1490.3" r="4.17" stroke="none"/><circle cx="1266.3" cy="1535.5" r="4.17" stroke="none"/><circle cx="1279.3" cy="1504.5" r="4.17" stroke="none"/><circle cx="1324.0" cy="1496.3" r="4.17" stroke="none"/><circle cx="1351.2" cy="1488.3" r="4.17" stroke="none"/><circle cx="1351.2" cy="1511.7" r="4.17" stroke="none"/><circle cx="1377.2" cy="1474.5" r="4.17" stroke="none"/><circle cx="1443.3" cy="1461.3" r="4.17" stroke="none"/><circle cx="1548.3" cy="1475.5" r="4.17" stroke="none"/><circle cx="1567.5" cy="1482.5" r="4.17" stroke="none"/><circle cx="1613.3" cy="1471.3" r="4.17" stroke="none"/><circle cx="1613.3" cy="1531.7" r="4.17" stroke="none"/>
<path d="M251.0 1441.2V1551.7M271.0 1427.2V1537.8M310.0 1386.3V1508.8M330.2 1355.3V1485.3M330.2 1396.2V1508.8M376.4 1474.2V1559.7M442.2 1386.3V1487.8M461.0 1380.0V1476.3M494.2 1386.3V1462.7M533.0 1364.2V1442.5M553.0 1471.1V1585.5M605.0 1432.2V1514.5M651.0 1364.2V1468.4M650.0 1380.8V1470.8M663.9 1410.3V1472.5M671.0 1405.3V1474.7M671.0 1420.7V1482.7M678.0 1357.0V1483.8M716.0 1416.2V1503.2M717.2 1430.7V1502.8M783.0 1432.2V1511.7M899.0 1457.0V1535.8M918.9 1517.2V1579.7M960.0 1481.2V1545.8M979.4 1505.0V1541.0M979.4 1510.0V1546.0M979.0 1517.0V1552.8M1011.4 1474.2V1529.7M1135.0 1499.3V1541.7M1142.0 1461.3V1517.8M1266.0 1508.3V1561.7M1279.0 1462.3V1546.7M1323.7 1431.2V1559.7M1350.9 1455.0V1521.7M1350.9 1487.0V1536.0M1376.9 1412.8V1535.0M1443.0 1418.0V1504.7M1548.0 1434.2V1515.8M1567.2 1438.0V1527.0M1613.0 1415.0V1527.6M1613.0 1462.0V1600.8" fill="none"/>
</g>
<g fill="#882255" stroke="#882255" stroke-width="2.08">
<circle cx="232.5" cy="1515.3" r="4.17" stroke="none"/><circle cx="252.5" cy="1512.5" r="4.17" stroke="none"/><circle cx="311.3" cy="1436.3" r="4.17" stroke="none"/><circle cx="330.5" cy="1425.5" r="4.17" stroke="none"/><circle cx="356.2" cy="1503.3" r="4.17" stroke="none"/><circle cx="442.5" cy="1438.7" r="4.17" stroke="none"/><circle cx="462.5" cy="1393.3" r="4.17" stroke="none"/><circle cx="494.5" cy="1439.5" r="4.17" stroke="none"/><circle cx="534.2" cy="1438.7" r="4.17" stroke="none"/><circle cx="553.3" cy="1479.5" r="4.17" stroke="none"/><circle cx="652.3" cy="1388.3" r="4.17" stroke="none"/><circle cx="652.3" cy="1424.7" r="4.17" stroke="none"/><circle cx="671.3" cy="1472.5" r="4.17" stroke="none"/><circle cx="717.5" cy="1461.3" r="4.17" stroke="none"/><circle cx="782.2" cy="1480.5" r="4.17" stroke="none"/><circle cx="801.3" cy="1423.3" r="4.17" stroke="none"/><circle cx="842.2" cy="1498.7" r="4.17" stroke="none"/><circle cx="860.0" cy="1518.3" r="4.17" stroke="none"/><circle cx="881.2" cy="1506.3" r="4.17" stroke="none"/><circle cx="972.2" cy="1514.2" r="4.17" stroke="none"/><circle cx="978.3" cy="1495.8" r="4.17" stroke="none"/><circle cx="978.3" cy="1499.7" r="4.17" stroke="none"/><circle cx="1011.3" cy="1507.5" r="4.17" stroke="none"/><circle cx="1063.3" cy="1480.5" r="4.17" stroke="none"/><circle cx="1135.3" cy="1513.3" r="4.17" stroke="none"/><circle cx="1240.3" cy="1460.3" r="4.17" stroke="none"/><circle cx="1279.3" cy="1481.3" r="4.17" stroke="none"/><circle cx="1279.3" cy="1483.3" r="4.17" stroke="none"/><circle cx="1325.3" cy="1473.3" r="4.17" stroke="none"/><circle cx="1325.3" cy="1503.3" r="4.17" stroke="none"/><circle cx="1331.2" cy="1492.2" r="4.17" stroke="none"/><circle cx="1345.3" cy="1479.5" r="4.17" stroke="none"/><circle cx="1351.2" cy="1514.2" r="4.17" stroke="none"/><circle cx="1378.3" cy="1450.3" r="4.17" stroke="none"/><circle cx="1423.3" cy="1513.3" r="4.17" stroke="none"/><circle cx="1443.3" cy="1460.5" r="4.17" stroke="none"/><circle cx="1443.3" cy="1472.5" r="4.17" stroke="none"/><circle cx="1560.3" cy="1504.5" r="4.17" stroke="none"/><circle cx="1567.5" cy="1478.3" r="4.17" stroke="none"/><circle cx="1613.3" cy="1460.3" r="4.17" stroke="none"/>
<path d="M232.2 1461.3V1567.8M252.2 1467.2V1556.7M311.0 1386.3V1485.8M330.2 1393.3V1457.7M355.9 1449.2V1556.7M442.2 1393.3V1481.7M462.2 1337.5V1448.7M494.2 1409.2V1467.5M533.9 1412.5V1463.7M553.0 1437.2V1521.8M652.0 1357.0V1419.6M652.0 1389.7V1459.7M671.0 1448.3V1496.7M717.2 1429.2V1491.7M781.9 1445.0V1513.8M801.0 1403.0V1441.7M841.9 1477.2V1518.8M859.7 1498.3V1537.0M880.9 1484.2V1528.0M971.9 1496.2V1532.0M978.0 1479.5V1512.0M978.0 1483.0V1514.7M1011.0 1485.8V1528.3M1063.0 1464.2V1495.8M1135.0 1497.2V1529.5M1240.0 1440.0V1480.0M1279.0 1457.2V1505.5M1279.0 1459.0V1507.0M1325.0 1445.3V1501.3M1325.0 1474.9V1531.7M1330.9 1465.3V1518.8M1345.0 1440.0V1518.8M1350.9 1457.5V1570.8M1378.0 1423.3V1477.3M1423.0 1473.0V1551.7M1443.0 1431.2V1489.8M1443.0 1438.3V1506.7M1560.0 1453.0V1554.7M1567.2 1437.2V1518.3M1613.0 1419.2V1501.7" fill="none"/>
</g>
</g>
<rect x="225.5" y="1335.5" width="1395.0" height="267.0" fill="none" stroke="#000" stroke-width="1.1"/>
<path d="M278.5 1602.5v4.9M442.5 1602.5v4.9M606.5 1602.5v4.9M770.5 1602.5v4.9M934.5 1602.5v4.9M1098.5 1602.5v4.9M1261.5 1602.5v4.9M1425.5 1602.5v4.9M1589.5 1602.5v4.9" stroke="#000" stroke-width="1.1" fill="none"/>
<text x="278.2" y="1637.7" font-size="33.33" text-anchor="middle" letter-spacing="-0.45">700</text>
<text x="442.0" y="1637.7" font-size="33.33" text-anchor="middle" letter-spacing="-0.45">725</text>
<text x="605.8" y="1637.7" font-size="33.33" text-anchor="middle" letter-spacing="-0.45">750</text>
<text x="769.7" y="1637.7" font-size="33.33" text-anchor="middle" letter-spacing="-0.45">775</text>
<text x="933.5" y="1637.7" font-size="33.33" text-anchor="middle" letter-spacing="-0.45">800</text>
<text x="1097.3" y="1637.7" font-size="33.33" text-anchor="middle" letter-spacing="-0.45">825</text>
<text x="1261.1" y="1637.7" font-size="33.33" text-anchor="middle" letter-spacing="-0.45">850</text>
<text x="1425.0" y="1637.7" font-size="33.33" text-anchor="middle" letter-spacing="-0.45">875</text>
<text x="1588.8" y="1637.7" font-size="33.33" text-anchor="middle" letter-spacing="-0.45">900</text>
<path d="M225.5 1395.5h-4.9M225.5 1477.5h-4.9M225.5 1558.5h-4.9" stroke="#000" stroke-width="1.1" fill="none"/>
<text x="215.3" y="1408.0" font-size="33.33" text-anchor="end" letter-spacing="-0.2">0.25</text>
<text x="215.3" y="1489.2" font-size="33.33" text-anchor="end" letter-spacing="-0.2">0.00</text>
<text x="215.3" y="1570.5" font-size="33.33" text-anchor="end" letter-spacing="-0.2">−0.25</text>
<text x="922.5" y="1676.0" font-size="33.33" text-anchor="middle">Julian Date</text>
<text transform="translate(101.4,1472.1) rotate(-90)" font-size="33.33" text-anchor="middle">Residuals</text>
<text x="1620" y="1673.2" font-size="33.33" text-anchor="end">+2.4580000000e6</text>
</svg></body></html>
